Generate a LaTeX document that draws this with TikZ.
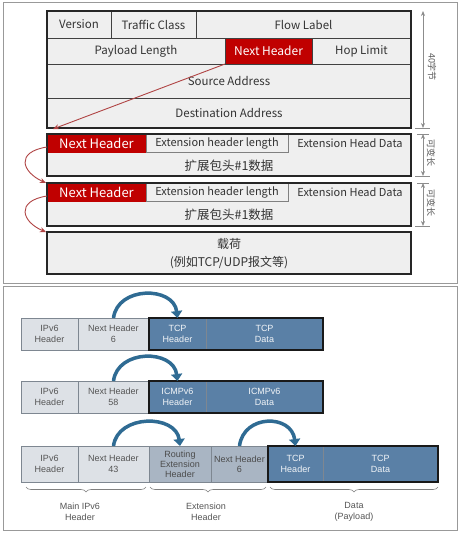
\documentclass[tikz,border=0pt]{standalone}
\usepackage{fontspec}
\newfontfamily\cjk{Noto Sans CJK SC}
\newfontfamily\arial{Liberation Sans}
\usetikzlibrary{arrows.meta, decorations.pathreplacing}

\definecolor{hdrred}{HTML}{C00000}
\definecolor{arrred}{HTML}{B04444}
\definecolor{cellgray}{HTML}{EFEFEF}
\definecolor{pktlight}{HTML}{DDE1E6}
\definecolor{pktmid}{HTML}{A9B5C3}
\definecolor{pktblue}{HTML}{5A80A6}
\definecolor{arcblue}{HTML}{2F6B93}
\definecolor{pktline}{HTML}{7E8791}
\definecolor{pkttext}{HTML}{555555}

\tikzset{
  panel/.style={draw=black!40, line width=1pt},
  cell/.style 2 args={rectangle, anchor=north west, inner sep=0pt, outer sep=0pt,
    minimum width=#1pt, minimum height=#2pt, fill=cellgray, draw=black!75, line width=1pt,
    text=black!80, font=\cjk\fontsize{11.5}{13}\selectfont},
  redcell/.style 2 args={cell={#1}{#2}, fill=hdrred, draw=hdrred, text=white,
    font=\cjk\fontsize{13}{14}\selectfont},
  lencell/.style 2 args={cell={#1}{#2}, draw=black!50, fill=cellgray, line width=0.6pt,
    font=\cjk\fontsize{11}{13}\selectfont},
  extbox/.style 2 args={cell={#1}{#2}, draw=none},
  plain/.style={inner sep=0pt, text=black!80, font=\cjk\fontsize{11}{13}\selectfont},
  body/.style={plain, align=center, font=\cjk\fontsize{12.5}{18}\selectfont},
  frame/.style={draw=black!85, line width=2pt},
  redarrow/.style={draw=arrred, line width=0.9pt, -{Stealth[length=6pt,width=5pt]}},
  dim/.style={draw=black!45, line width=0.7pt, {Stealth[length=5pt,width=4pt]}-{Stealth[length=5pt,width=4pt]}},
  tick/.style={draw=black!45, line width=0.7pt},
  dimlbl/.style={rotate=-90, inner sep=0pt, text=black!65, font=\cjk\fontsize{9}{10}\selectfont},
  pkt/.style 2 args={rectangle, anchor=north west, inner sep=0pt, outer sep=0pt,
    minimum width=#1pt, minimum height=#2pt, fill=pktlight, draw=pktline, line width=0.6pt,
    align=center, text=pkttext, font=\arial\fontsize{9}{10.5}\selectfont},
  pktmid/.style 2 args={pkt={#1}{#2}, fill=pktmid, text=black!70, font=\arial\fontsize{9}{10}\selectfont},
  pktdark/.style 2 args={pkt={#1}{#2}, fill=pktblue, text=white!92!pktblue},
  groupframe/.style={draw=black!90, line width=1.8pt},
  arc/.style={draw=arcblue, line width=3.5pt, -{Triangle[width=11pt,length=7pt]}},
  brace/.style={decorate, decoration={brace, amplitude=5pt, mirror}, draw=black!50, line width=0.6pt},
  bracelbl/.style={align=center, inner sep=0pt, text=pkttext, font=\arial\fontsize{9}{11}\selectfont}
}

\begin{document}
\begin{tikzpicture}[x=1pt,y=-1pt]
\useasboundingbox (0,0) rectangle (460,533);
\fill[white] (0,0) rectangle (460,533);
\draw[panel] (3,2) rectangle (457,283);
\draw[panel] (3,286) rectangle (457,530);

% IPv6 fixed header
\node[cell={64}{27}] (ver) at (47,11) {Version};
\node[cell={85}{27}] (tc) at (111,11) {Traffic Class};
\node[cell={215}{27}] (fl) at (196,11) {Flow Label};
\node[cell={178}{26}] (pl) at (47,38) {Payload Length};
\node[cell={87}{26}, fill=hdrred, text=white, font=\cjk\fontsize{12}{13}\selectfont] (nh) at (225,38) {Next Header};
\node[cell={99}{26}] (hl) at (312,38) {Hop Limit};
\node[cell={364}{34}] (src) at (47,64) {Source Address};
\node[cell={364}{30}] (dst) at (47,98) {Destination Address};
\draw[frame] (ver.north west) rectangle (dst.south east);

% extension headers
\node[extbox={364}{42}] (ext1) at (47,134) {};
\node[redcell={99}{18}] (nh1) at (47,134) {Next Header};
\node[lencell={142}{18}] (len1) at (146,134) {Extension header length};
\node[plain] (data1) at (350,143) {Extension Head Data};
\node[body] (body1) at (229,166) {扩展包头\#1数据};
\draw[frame] (ext1.north west) rectangle (ext1.south east);

\node[extbox={364}{43}] (ext2) at (47,183) {};
\node[redcell={99}{18}] (nh2) at (47,183) {Next Header};
\node[lencell={142}{18}] (len2) at (146,183) {Extension header length};
\node[plain] (data2) at (350,192) {Extension Head Data};
\node[body] (body2) at (229,215) {扩展包头\#1数据};
\draw[frame] (ext2.north west) rectangle (ext2.south east);

\node[extbox={364}{42}] (pay) at (47,232) {};
\node[body, font=\cjk\fontsize{12}{18}\selectfont] (paytxt) at (229,254) {载荷\\(例如TCP/UDP报文等)};
\draw[frame] (pay.north west) rectangle (pay.south east);

\draw[redarrow] (nh.south west) -- ([xshift=6pt,yshift=5pt]ext1.north west);
\draw[redarrow] ([yshift=-4pt]nh1.west) .. controls (15,152) and (22,172) .. ([xshift=-1pt]ext2.north west);
\draw[redarrow] ([yshift=-4pt]nh2.west) .. controls (15,201) and (22,222) .. ([xshift=-1pt]pay.north west);

% sizes on the right
\coordinate (dimx) at (423,0);
\draw[dim] (dimx |- ver.north) -- (dimx |- dst.south);
\draw[tick] (dimx |- dst.south) ++(-8,0) -- ++(15,0);
\node[dimlbl] (len40) at (432,67) {40字节};
\draw[dim] (dimx |- ext1.north) -- (dimx |- ext1.south);
\draw[tick] (dimx |- ext1.north) ++(-6,0) -- ++(12,0);
\draw[tick] (dimx |- ext1.south) ++(-8,0) -- ++(15,0);
\node[dimlbl] (var1) at (431,153) {可变长};
\draw[dim] (dimx |- ext2.north) -- (dimx |- ext2.south);
\draw[tick] (dimx |- ext2.north) ++(-6,0) -- ++(12,0);
\draw[tick] (dimx |- ext2.south) ++(-8,0) -- ++(15,0);
\node[dimlbl] (var2) at (431,203) {可变长};

% packet examples
\node[pkt={57}{32}] (ipA) at (21,318) {IPv6\\Header};
\node[pkt={71}{32}] (nhA) at (78,318) {Next Header\\6};
\node[pktdark={57}{32}] (tcpA) at (149,318) {TCP\\Header};
\node[pktdark={117}{32}] (tdA) at (206,318) {TCP\\Data};
\draw[groupframe] (tcpA.north west) rectangle (tdA.south east);
\draw[arc] (nhA.north) .. controls +(4,-32) and +(-4,-32) .. (tcpA.north);

\node[pkt={57}{32}] (ipB) at (21,381) {IPv6\\Header};
\node[pkt={71}{32}] (nhB) at (78,381) {Next Header\\58};
\node[pktdark={57}{32}] (icB) at (149,381) {ICMPv6\\Header};
\node[pktdark={117}{32}] (idB) at (206,381) {ICMPv6\\Data};
\draw[groupframe] (icB.north west) rectangle (idB.south east);
\draw[arc] (nhB.north) .. controls +(4,-32) and +(-4,-32) .. (icB.north);

\node[pkt={57}{36}] (ipC) at (21,446) {IPv6\\Header};
\node[pkt={71}{36}] (nhC) at (78,446) {Next Header\\43};
\node[pktmid={62}{36}] (rtC) at (149,446) {Routing\\Extension\\Header};
\node[pktmid={57}{36}] (nh6C) at (211,446) {Next Header\\6};
\node[pktdark={55}{36}] (tcpC) at (268,446) {TCP\\Header};
\node[pktdark={115}{36}] (tdC) at (323,446) {TCP\\Data};
\draw[groupframe] (tcpC.north west) rectangle (tdC.south east);
\draw[arc] (nhC.north) .. controls +(4,-32) and +(-4,-32) .. (rtC.north);
\draw[arc] (nh6C.north) .. controls +(4,-32) and +(-4,-32) .. (tcpC.north);

\draw[brace] ([xshift=5pt,yshift=-5pt]ipC.south west) -- ([xshift=-3pt,yshift=-5pt]nhC.south east);
\draw[brace] ([xshift=1pt,yshift=-5pt]rtC.south west) -- ([xshift=-2pt,yshift=-5pt]nh6C.south east);
\draw[brace] ([xshift=2pt,yshift=-5pt]tcpC.south west) -- ([yshift=-5pt]tdC.south east);
\node[bracelbl] (lblmain) at (80,512) {Main IPv6\\Header};
\node[bracelbl] (lblext) at (206,512) {Extension\\Header};
\node[bracelbl] (lbldata) at (354,512) {Data\\(Payload)};
\end{tikzpicture}
\end{document}
